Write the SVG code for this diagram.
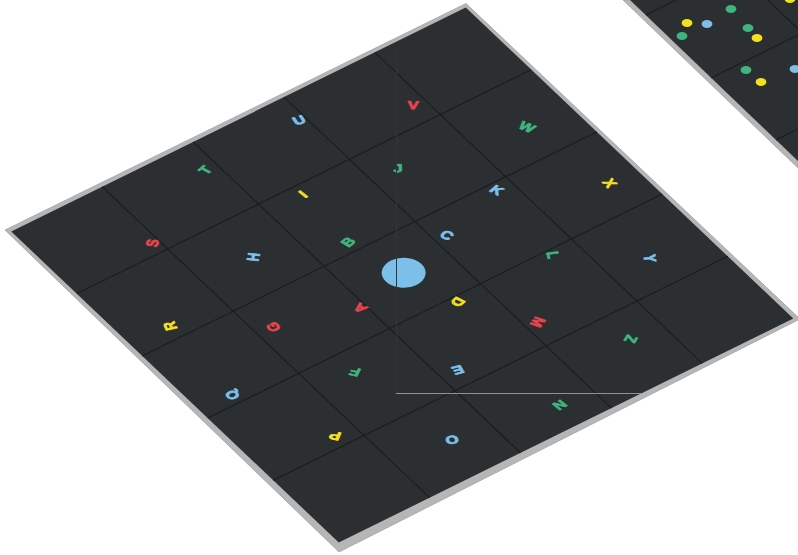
<svg xmlns="http://www.w3.org/2000/svg" width="798" height="555" viewBox="0 0 798 555">
<style>
.rim{fill:#b6b6b6;stroke:#a2a2a2;stroke-width:0.8}
.mat{fill:#2c2f32}
.grid{stroke:#1a1c1e;stroke-width:1.1;fill:none}
.ltr{font-family:"Liberation Sans",Arial,sans-serif;font-weight:bold;font-size:15px;text-anchor:middle;stroke-width:0.9;stroke-linejoin:round}
.r{fill:#e8434f;stroke:#e8434f}.g{fill:#3fb47f;stroke:#3fb47f}.b{fill:#7cc0ea;stroke:#7cc0ea}.y{fill:#f5e01e;stroke:#f5e01e}
.dot{stroke:none}
.art{stroke:#8e9194;stroke-width:1;fill:none}
</style>
<rect width="798" height="555" fill="#ffffff"/>
<g id="mat2">
<polygon class="rim" points="623,0 630,0 798,161 798,168"/>
<polygon class="mat" points="630,0 798,0 798,161"/>
<g class="grid">
<line x1="646" y1="15" x2="676" y2="0"/>
<line x1="711" y1="78" x2="798" y2="35"/>
<line x1="776" y1="140" x2="798" y2="129"/>
<line x1="768" y1="0" x2="798" y2="29"/>
</g>
<g id="dots">
<ellipse class="g dot" cx="731" cy="9" rx="5.4" ry="4"/>
<ellipse class="y dot" cx="687" cy="23" rx="5.4" ry="4"/>
<ellipse class="b dot" cx="707" cy="24" rx="5.4" ry="4"/>
<ellipse class="g dot" cx="682" cy="36" rx="5.4" ry="4"/>
<ellipse class="g dot" cx="748" cy="28" rx="5.4" ry="4"/>
<ellipse class="y dot" cx="757" cy="38" rx="5.4" ry="4"/>
<ellipse class="g dot" cx="746" cy="70" rx="5.4" ry="4"/>
<ellipse class="y dot" cx="761" cy="82" rx="5.4" ry="4"/>
<ellipse class="b dot" cx="795" cy="69" rx="5.4" ry="4"/>
<ellipse class="y dot" cx="790" cy="-1" rx="5.4" ry="4"/>
</g>
</g>
<g id="mat1">
<polygon class="rim" points="5,230 466,3.5 800,319 339,552"/>
<g transform="matrix(0.909 -0.448 0.655 0.622 11.25 231.5)">
<rect class="mat" x="0" y="0" width="500" height="500"/>
<g id="grid" class="grid">
<line x1="100" y1="0" x2="100" y2="500" vector-effect="non-scaling-stroke"/>
<line x1="200" y1="0" x2="200" y2="500" vector-effect="non-scaling-stroke"/>
<line x1="300" y1="0" x2="300" y2="500" vector-effect="non-scaling-stroke"/>
<line x1="400" y1="0" x2="400" y2="500" vector-effect="non-scaling-stroke"/>
<line x1="0" y1="100" x2="500" y2="100" vector-effect="non-scaling-stroke"/>
<line x1="0" y1="200" x2="500" y2="200" vector-effect="non-scaling-stroke"/>
<line x1="0" y1="300" x2="500" y2="300" vector-effect="non-scaling-stroke"/>
<line x1="0" y1="400" x2="500" y2="400" vector-effect="non-scaling-stroke"/>
</g>
<circle id="centre" class="b dot" cx="252.7" cy="248.4" r="19.6"/>
<g id="letters" class="ltr">
<text class="r" transform="translate(194.2,262.9) rotate(-103)" y="5.4">A</text>
<text class="g" transform="translate(235.9,186.8) rotate(-12.6)" y="5.4">B</text>
<text class="b" transform="translate(312.9,231.0) rotate(73.2)" y="5.4">C</text>
<text class="y" transform="translate(269.8,307.7) rotate(161.1)" y="5.4">D</text>
<text class="b" transform="translate(217.9,379.6) rotate(-166.1)" y="5.4">E</text>
<text class="g" transform="translate(141.8,328.0) rotate(-125.8)" y="5.4">F</text>
<text class="r" transform="translate(116.7,237.6) rotate(-84.7)" y="5.4">G</text>
<text class="b" transform="translate(155.6,153.1) rotate(-44.3)" y="5.4">H</text>
<text class="y" transform="translate(239.9,112.5) rotate(-4.2)" y="5.4">I</text>
<text class="g" transform="translate(328.5,134.5) rotate(34.2)" y="5.4">J</text>
<text class="b" transform="translate(383.5,209.5) rotate(73.1)" y="5.4">K</text>
<text class="g" transform="translate(374.5,307.5) rotate(114.8)" y="5.4">L</text>
<text class="r" transform="translate(312.5,370.6) rotate(152.6)" y="5.4">M</text>
<text class="g" transform="translate(265.1,469.9) rotate(176.1)" y="5.4">N</text>
<text class="b" transform="translate(160.2,450.6) rotate(-155.9)" y="5.4">O</text>
<text class="y" transform="translate(78.5,385.3) rotate(-128.3)" y="5.4">P</text>
<text class="b" transform="translate(35.2,288.2) rotate(-100.1)" y="5.4">Q</text>
<text class="y" transform="translate(42.9,182.8) rotate(-72)" y="5.4">R</text>
<text class="r" transform="translate(93.2,85.6) rotate(-43.6)" y="5.4">S</text>
<text class="g" transform="translate(187.2,36.0) rotate(-16.4)" y="5.4">T</text>
<text class="b" transform="translate(293.4,32.1) rotate(11.3)" y="5.4">U</text>
<text class="r" transform="translate(387.5,75.7) rotate(38.3)" y="5.4">V</text>
<text class="g" transform="translate(453.3,158.4) rotate(65.7)" y="5.4">W</text>
<text class="y" transform="translate(470.6,261.0) rotate(92.9)" y="5.4">X</text>
<text class="b" transform="translate(442.4,361.3) rotate(120)" y="5.4">Y</text>
<text class="g" transform="translate(366.9,437.1) rotate(148)" y="5.4">Z</text>
</g>
</g>
</g>
<g id="artefacts">
<line x1="396.5" y1="50" x2="396.5" y2="393" stroke="#323538" stroke-width="1"/>
<line class="art" x1="396" y1="393.5" x2="641" y2="393.5"/>
</g>
</svg>
